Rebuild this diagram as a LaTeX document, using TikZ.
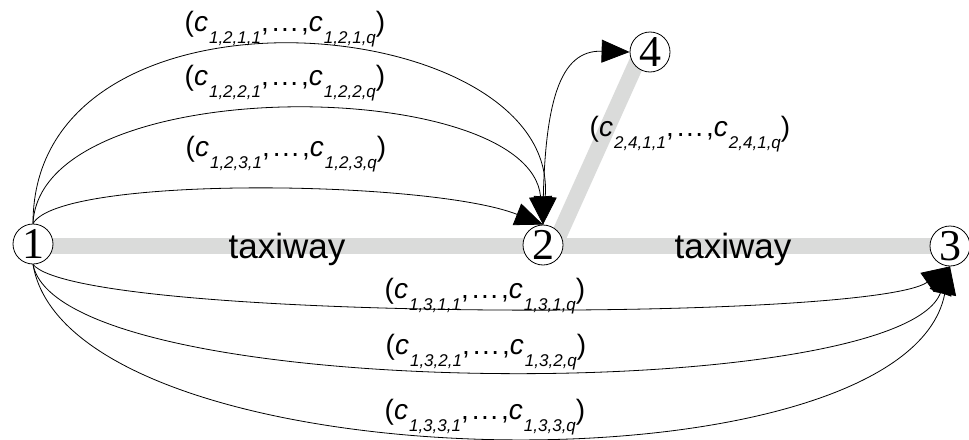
\documentclass[tikz,border=0pt]{standalone}
\usepackage{fontspec}
\setmainfont{Liberation Sans}
\newfontfamily\serifdigits{Liberation Serif}
\usetikzlibrary{arrows.meta}
\definecolor{bandgray}{RGB}{218,219,218}
\newcommand{\cvar}[1]{\textit{c}\kern1pt\raisebox{-12pt}{\fontsize{17}{17}\selectfont\textit{#1}}}
\newcommand{\clabel}[3]{(\cvar{#1,#2,#3,1},\kern3pt.\kern1.5pt.\kern1.5pt.\kern3pt,\cvar{#1,#2,#3,q})}
\begin{document}
\begin{tikzpicture}[x=1pt,y=-1pt,
  stop/.style={circle,draw,fill=white,minimum size=40pt,inner sep=0pt,line width=0.8pt,
    font=\serifdigits\fontsize{44}{44}\selectfont},
  band/.style={line width=16pt,draw=bandgray},
  route/.style={line width=0.8pt,-{Triangle[length=28pt,width=23pt]}},
  lbl/.style={font=\fontsize{28}{28}\selectfont,inner sep=0pt,anchor=base},
  tw/.style={font=\fontsize{35}{35}\selectfont,inner sep=0pt,anchor=base}]
\useasboundingbox (0,0) rectangle (969,439);
% taxiway bands
\coordinate (b1) at (33,246);
\coordinate (b3) at (950,246);
\coordinate (b2) at (554.6,245);
\coordinate (b4) at (641,53);
\draw[band] (b1) -- (b3);
\draw[band] (b2) -- (b4);
% nodes
\node[stop] (n1) at (33,244) {1};
\node[stop] (n2) at (543,245) {2};
\node[stop] (n3) at (950,246) {3};
\node[stop] (n4) at (650,52) {4};
% taxiway texts
\node[tw] (tw1) at (287,258) {taxiway};
\node[tw] (tw2) at (733,258) {taxiway};
% routes 1 -> 2
\draw[route] (n1.north) .. controls (33,-36) and (560,10) .. (n2.north);
\draw[route] (n1.north) .. controls (40,70) and (530,75) .. (n2.north);
\draw[route] (n1.north) .. controls (60,175) and (430,180) .. (n2.north);
% routes 1 -> 3
\draw[route] (n1.south) .. controls (80,322) and (870,322) .. (n3.south);
\draw[route] (n1.south) .. controls (60,405) and (900,405) .. (n3.south);
\draw[route] (n1.south) .. controls (70,486) and (905,500) .. (n3.south);
% route 2 -> 4
\draw[route] (n2.north) .. controls (543,100) and (560,50) .. (n4.west);
% labels
\node[lbl] (l121) at (285,31) {\clabel{1}{2}{1}};
\node[lbl] (l122) at (285,85) {\clabel{1}{2}{2}};
\node[lbl] (l123) at (286,156) {\clabel{1}{2}{3}};
\node[lbl] (l131) at (485,298) {\clabel{1}{3}{1}};
\node[lbl] (l132) at (486,354) {\clabel{1}{3}{2}};
\node[lbl] (l133) at (485,419) {\clabel{1}{3}{3}};
\node[lbl] (l241) at (690,136) {\clabel{2}{4}{1}};
\end{tikzpicture}
\end{document}
